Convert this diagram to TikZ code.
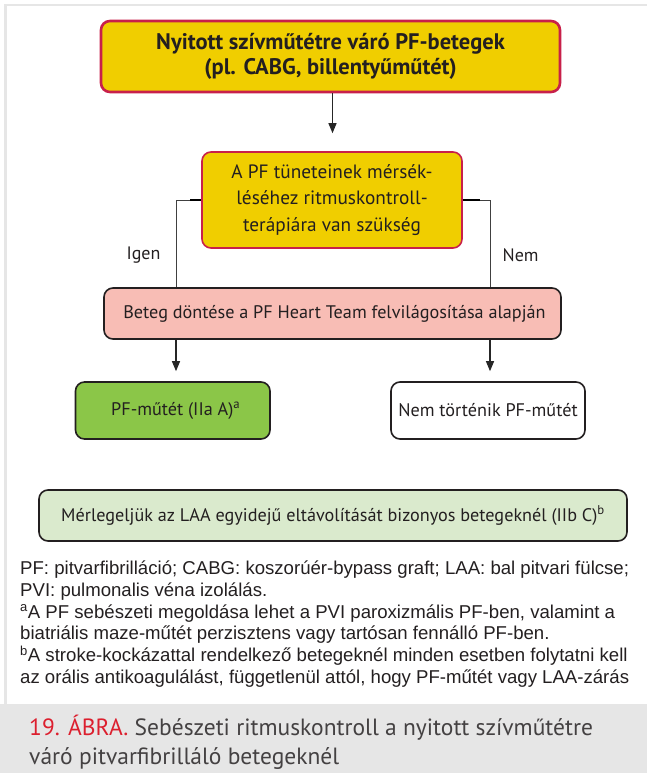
\documentclass[tikz,border=0pt]{standalone}
\usepackage{fontspec}
\setmainfont{PT Sans}
\newfontfamily\fnfont{Liberation Sans}
\usetikzlibrary{arrows.meta}
\definecolor{ylw}{HTML}{F0CE00}
\definecolor{crim}{HTML}{C8204A}
\definecolor{pinkf}{HTML}{F8BDB5}
\definecolor{grn}{HTML}{8BC648}
\definecolor{lgrn}{HTML}{DAEACD}
\definecolor{capbg}{HTML}{E6E6E6}
\definecolor{capred}{HTML}{DC1F2E}
\definecolor{txt}{HTML}{231F20}
\tikzset{
  box/.style={draw=txt, line width=1.6pt, rounded corners=9pt, inner sep=0pt, align=center, text=txt, font=\fontsize{18.2}{26}\selectfont},
  ybox/.style={box, fill=ylw, draw=crim},
  conn/.style={draw=black!75, line width=1pt},
  stub/.style={draw=black, line width=2.6pt},
  arr/.style={draw=black!85, line width=1.1pt, -{Triangle[width=8pt,length=10pt]}},
  lbl/.style={text=txt, font=\fontsize{18}{20}\selectfont, inner sep=0pt},
  fn/.style={anchor=base west, inner sep=0pt, text=txt, font=\fnfont\fontsize{18.6}{21}\selectfont},
  captext/.style={anchor=base west, inner sep=0pt, text=txt!85, font=\fontsize{23.5}{28}\selectfont}
}
\begin{document}
\begin{tikzpicture}[x=1pt,y=-1pt]
\useasboundingbox (0,0) rectangle (647,773);
% frame
\fill[capbg] (4,4) rectangle (647,6.5);
\fill[capbg] (4,4) rectangle (6.5,704);
\fill[capbg] (0,704) rectangle (647,773);
% boxes
\node[ybox, line width=2.6pt, minimum width=459pt, minimum height=71pt, font=\bfseries\fontsize{22.5}{25}\selectfont] (top) at (330.5,56.5) {Nyitott szívműtétre váró PF-betegek\\(pl. CABG, billentyűműtét)};
\node[ybox, minimum width=260pt, minimum height=96pt, font=\fontsize{19.3}{26.5}\selectfont] (q) at (332,200) {A PF tüneteinek mérsék-\\léséhez ritmuskontroll-\\terápiára van szükség};
\node[box, fill=pinkf, minimum width=457pt, minimum height=51pt] (pink) at (332.5,313.5) {\hspace*{4pt}Beteg döntése a PF Heart Team felvilágosítása alapján};
\node[box, fill=grn, minimum width=194.5pt, minimum height=57pt] (yes) at (172.75,410.5) {\hspace*{6pt}PF-műtét (IIa A)\textsuperscript{a}};
\node[box, fill=white, minimum width=194pt, minimum height=57pt] (no) at (488,410.5) {Nem történik PF-műtét};
\node[box, fill=lgrn, minimum width=588pt, minimum height=51pt] (laa) at (333,515.5) {Mérlegeljük az LAA egyidejű eltávolítását bizonyos betegeknél (IIb C)\textsuperscript{b}};
% connectors
\coordinate (lx) at (176,0);
\coordinate (rx) at (490,0);
\draw[arr, shorten >=18pt] (top.south -| 332.5,0) -- (q.north -| 332.5,0);
\draw[conn] (q.west) -| (pink.north -| lx);
\draw[conn] (q.east) -| (pink.north -| rx);
\draw[stub] (q.west) -- ++(-11,0);
\draw[stub] (q.east) -- ++(17,0);
\node[lbl] (igen) at (143.5,255) {Igen};
\node[lbl] (nem) at (520.6,255) {Nem};
\draw[arr, shorten >=10pt] (pink.south -| lx) -- (yes.north -| lx);
\draw[arr, shorten >=10pt] (pink.south -| rx) -- (no.north -| rx);
% footnotes
\node[fn] (f1) at (20,574.5) {PF: pitvarfibrilláció; CABG: koszorúér-bypass graft; LAA: bal pitvari fülcse;};
\node[fn] (f2) at (20,596.5) {PVI: pulmonalis véna izolálás.};
\node[fn] (f3) at (20,618) {\textsuperscript{a}A PF sebészeti megoldása lehet a PVI paroxizmális PF-ben, valamint a};
\node[fn] (f4) at (20,639.5) {biatriális maze-műtét perzisztens vagy tartósan fennálló PF-ben.};
\node[fn] (f5) at (20,661.5) {\textsuperscript{b}A stroke-kockázattal rendelkező betegeknél minden esetben folytatni kell};
\node[fn] (f6) at (20,683) {az orális antikoagulálást, függetlenül attól, hogy PF-műtét vagy LAA-zárás};
% caption
\node[captext] (c1) at (29,735) {\textcolor{capred}{19. ÁBRA.} Sebészeti ritmuskontroll a nyitott szívműtétre};
\node[captext] (c2) at (29,764) {váró pitvarfibrilláló betegeknél};
\end{tikzpicture}
\end{document}
